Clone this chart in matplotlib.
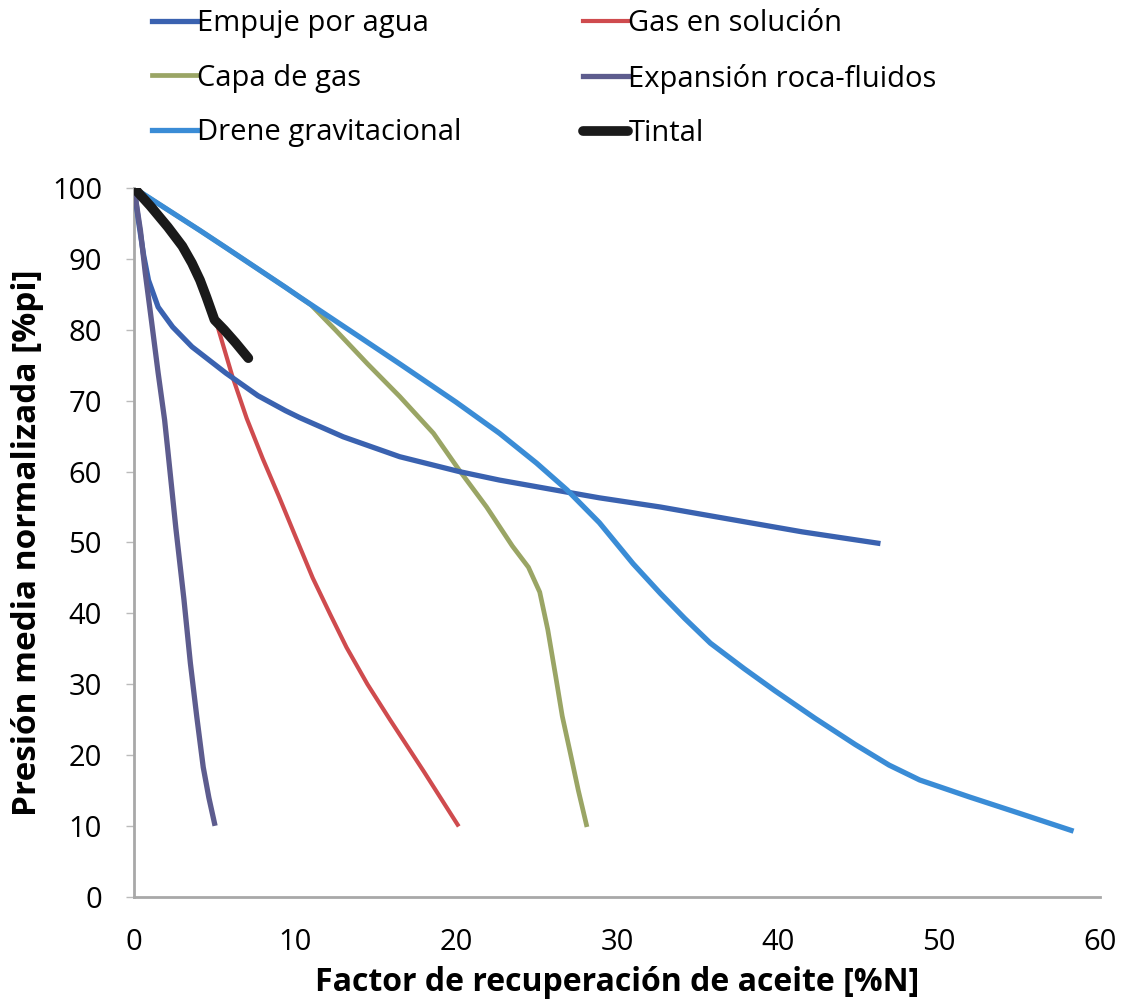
import matplotlib
matplotlib.use("Agg")
import matplotlib.pyplot as plt

plt.rcParams['font.family'] = ['Open Sans', 'DejaVu Sans']

# curves (x = recovery factor %N, y = pressure %pi)
empuje_x = [0, 0.3, 0.6, 0.9, 1.5, 2.4, 3.6, 5.7, 7.7, 9.4, 10.3, 13.0, 16.5,
            20.2, 22.7, 26.9, 28.9, 32.7, 35.2, 41.5, 46.2]
empuje_y = [100, 95, 90.5, 87, 83.2, 80.4, 77.6, 73.9, 70.7, 68.6, 67.6, 64.9, 62.1,
            60, 58.8, 57.1, 56.3, 55, 54, 51.5, 49.9]

gas_sol_x = [0, 1.0, 2.1, 3.0, 3.6, 4.5, 5.2, 6.1, 7.0, 8.0, 9.0, 10.0, 11.1,
             12.2, 13.2, 14.5, 15.9, 18.0, 20.1]
gas_sol_y = [100, 97.5, 94.5, 91.8, 89.4, 84.6, 80.4, 73.5, 67.5, 61.8, 56.5, 51, 45,
             39.8, 35.2, 30, 25, 17.7, 10.2]

capa_x = [0, 1.5, 4.1, 5.7, 9.4, 10.3, 11.0, 12.5, 14.5, 16.5, 18.6, 20.2, 21.9,
          23.5, 24.5, 25.2, 25.7, 26.2, 26.6, 27.1, 27.6, 28.1]
capa_y = [100, 97.8, 94.0, 91.6, 86.0, 84.6, 83.5, 80, 75.2, 70.6, 65.4, 60.2, 55,
          49.5, 46.5, 43, 37.7, 31, 25.5, 20.3, 15, 10.2]

expansion_x = [0, 0.2, 0.4, 0.7, 1.1, 1.5, 1.9, 2.1, 2.6, 3.1, 3.5, 3.9, 4.3, 4.65, 5.0]
expansion_y = [100, 97, 94, 88, 81, 73.9, 67.3, 63, 52, 42, 33, 25.4, 18.3, 14, 10.4]

drene_x = [0, 1.5, 4.1, 5.7, 9.4, 10.3, 14.0, 16.5, 20.0, 22.7, 25.0, 26.9, 28.9,
           31.0, 32.7, 34.2, 35.8, 37.9, 39.8, 42.3, 44.8, 46.9, 48.8, 51.9, 55.0, 58.2]
drene_y = [100, 97.8, 94.0, 91.6, 86.0, 84.6, 79.0, 75.2, 69.8, 65.4, 61.2, 57.4, 52.8,
           47, 42.8, 39.3, 35.8, 32.2, 29.1, 25.2, 21.5, 18.6, 16.5, 14.1, 11.8, 9.4]

tintal_x = [0, 1.0, 2.1, 3.0, 3.6, 4.1, 4.5, 5.0, 5.6, 6.3, 7.1]
tintal_y = [100, 97.5, 94.5, 91.8, 89.4, 87, 84.6, 81.4, 80, 78.2, 76]

x_ticks = [0, 10, 20, 30, 40, 50, 60]
y_ticks = [0, 10, 20, 30, 40, 50, 60, 70, 80, 90, 100]

fig = plt.figure(figsize=(11.28, 10.02), dpi=100)
ax = fig.add_axes([0.1188, 0.1048, 0.8564, 0.7076])

l_emp, = ax.plot(empuje_x, empuje_y, color='#3a62b0', lw=3.8, label='Empuje por agua', zorder=3)
l_gas, = ax.plot(gas_sol_x, gas_sol_y, color='#cf4b4e', lw=3.0, label='Gas en solución', zorder=2)
l_capa, = ax.plot(capa_x, capa_y, color='#9aa565', lw=3.4, label='Capa de gas', zorder=2)
l_exp, = ax.plot(expansion_x, expansion_y, color='#5d5c8e', lw=3.8,
                 label='Expansión roca-fluidos', zorder=4)
l_dre, = ax.plot(drene_x, drene_y, color='#3a8cd6', lw=3.8, label='Drene gravitacional', zorder=3)
l_tin, = ax.plot(tintal_x, tintal_y, color='#1a1a1a', lw=7, label='Tintal', zorder=5,
                 solid_capstyle='round')

ax.set_xlim(0, 60)
ax.set_ylim(0, 100)
ax.set_xticks(x_ticks)
ax.set_yticks(y_ticks)

for s in ['top', 'right']:
    ax.spines[s].set_visible(False)
for s in ['left', 'bottom']:
    ax.spines[s].set_color('#a8a8a8')
    ax.spines[s].set_linewidth(2)

ax.tick_params(axis='y', length=6, width=1, color='#bbbbbb', pad=17, labelsize=21)
ax.tick_params(axis='x', length=0, pad=22, labelsize=21)

ax.set_xlabel('Factor de recuperación de aceite [%N]', fontsize=23, fontweight='bold')
ax.set_ylabel('Presión media normalizada [%pi]', fontsize=24, fontweight='bold')
ax.xaxis.set_label_coords(0.5, -0.098)
ax.yaxis.set_label_coords(-0.093, 0.5)

# two legend columns placed separately
leg_kw = dict(loc='upper left', frameon=False, fontsize=21, handlelength=1.55,
              handletextpad=0.0, labelspacing=0.88, borderpad=0, borderaxespad=0)
fig.legend([l_emp, l_capa, l_dre], ['Empuje por agua', 'Capa de gas', 'Drene gravitacional'],
           bbox_to_anchor=(0.135, 0.991), **leg_kw)
fig.legend([l_gas, l_exp, l_tin], ['Gas en solución', 'Expansión roca-fluidos', 'Tintal'],
           bbox_to_anchor=(0.517, 0.991), **leg_kw)

fig.savefig('out.png', dpi=100)
